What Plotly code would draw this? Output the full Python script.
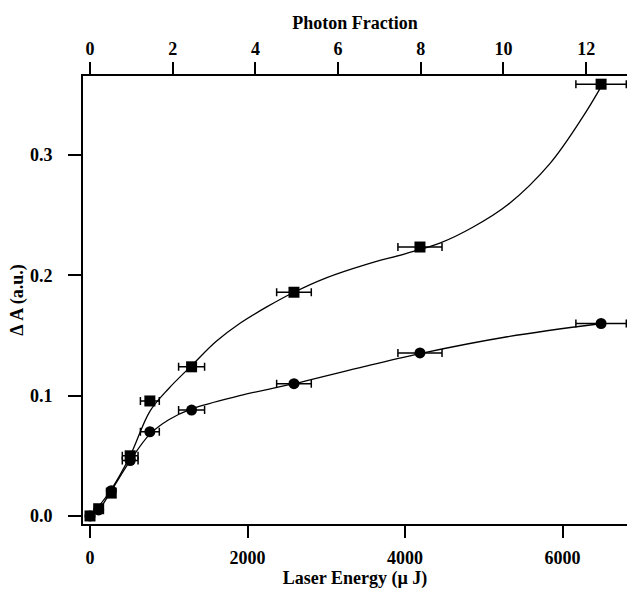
import plotly.graph_objects as go

# Measured points (Laser energy in µJ, ΔA in a.u.)
energy = [0, 110, 270, 510, 760, 1290, 2590, 4190, 6490]
dA_square = [0, 0.006, 0.019, 0.050, 0.0956, 0.124, 0.186, 0.2236, 0.359]
dA_circle = [0, 0.005, 0.021, 0.046, 0.070, 0.088, 0.110, 0.1355, 0.160]
energy_err = [0, 0, 30, 100, 120, 165, 220, 280, 320]

# Fit curves
sq_fit_x = [0, 110, 270, 510, 760, 1000, 1290, 1600, 1900, 2250, 2590, 3000, 3500,
            4000, 4450, 4860, 5300, 5840, 6260, 6500]
sq_fit_y = [0, 0.008, 0.022, 0.050, 0.087, 0.106, 0.125, 0.145, 0.160, 0.174, 0.186,
            0.198, 0.209, 0.218, 0.227, 0.240, 0.2585, 0.293, 0.332, 0.358]
ci_fit_x = [0, 110, 270, 510, 760, 1000, 1290, 1900, 2590, 3400, 4190, 5300, 6500]
ci_fit_y = [0, 0.005, 0.021, 0.046, 0.068, 0.080, 0.089, 0.100, 0.110, 0.123, 0.135, 0.149, 0.160]

x_ticks = [0, 2000, 4000, 6000]
top_ticks = [0, 2, 4, 6, 8, 10, 12]
y_ticks = [0.0, 0.1, 0.2, 0.3]
uj_per_photon_fraction = 525.0

x_range = [-89, 6819]
y_range = [-0.0067, 0.3658]

FAM = "Liberation Serif"
tickfont = dict(family=FAM, size=18, color="black", weight="bold")
titlefont = dict(family=FAM, size=18, color="black", weight="bold")

fig = go.Figure()
fig.add_trace(go.Scatter(x=sq_fit_x, y=sq_fit_y, mode="lines",
                         line=dict(color="black", width=1.3, shape="spline", smoothing=1.0),
                         hoverinfo="skip", showlegend=False))
fig.add_trace(go.Scatter(x=ci_fit_x, y=ci_fit_y, mode="lines",
                         line=dict(color="black", width=1.3, shape="spline", smoothing=1.0),
                         hoverinfo="skip", showlegend=False))
err = dict(type="data", array=energy_err, color="black", thickness=1.5, width=4)
fig.add_trace(go.Scatter(x=energy, y=dA_circle, mode="markers",
                         marker=dict(symbol="circle", size=11, color="black"),
                         error_x=err, showlegend=False))
fig.add_trace(go.Scatter(x=energy, y=dA_square, mode="markers",
                         marker=dict(symbol="square", size=11, color="black"),
                         error_x=err, showlegend=False))
# invisible trace to anchor the top axis
fig.add_trace(go.Scatter(x=[top_ticks[0]], y=[0], xaxis="x2", mode="markers",
                         marker=dict(opacity=0), hoverinfo="skip", showlegend=False))

common = dict(ticks="outside", tickwidth=1.5, tickcolor="black", showline=True,
              linecolor="black", linewidth=2, showgrid=False, zeroline=False,
              automargin=False, tickfont=tickfont)

fig.update_layout(
    width=627, height=593,
    margin=dict(l=83, r=0, t=76, b=69),
    paper_bgcolor="white", plot_bgcolor="white",
    font=dict(family=FAM, size=18, color="black"),
    xaxis=dict(range=x_range, tickvals=x_ticks, ticktext=[str(v) for v in x_ticks],
               ticklen=12, ticklabelstandoff=4,
               title=dict(text="Laser Energy (µ J)", standoff=5, font=titlefont), **common),
    xaxis2=dict(range=[v / uj_per_photon_fraction for v in x_range], overlaying="x", side="top",
                anchor="y", tickvals=top_ticks, ticktext=[str(v) for v in top_ticks],
                ticklen=12, ticklabelstandoff=0,
                title=dict(text="Photon Fraction", standoff=4, font=titlefont), **common),
    yaxis=dict(range=y_range, tickvals=y_ticks, ticktext=["0.0", "0.1", "0.2", "0.3"],
               ticklen=13, ticklabelstandoff=12,
               title=dict(text="Δ A (a.u.)", standoff=2, font=titlefont), **common),
)

fig.write_html("out.html", config={"displayModeBar": False},
               post_script="document.body.style.margin='0';document.body.style.overflow='hidden';")
